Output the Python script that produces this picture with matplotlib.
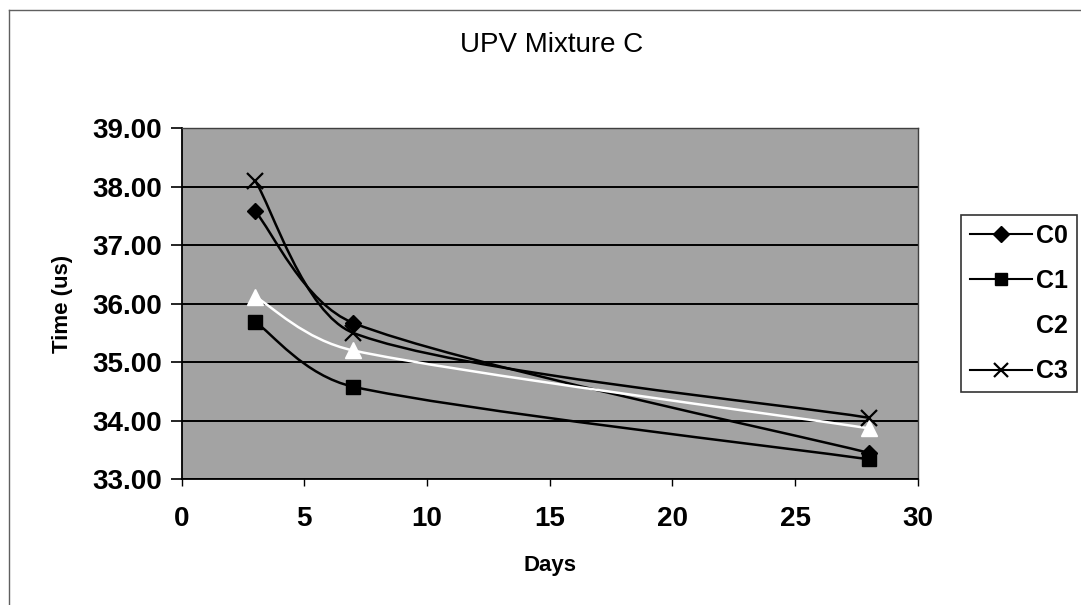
import matplotlib
matplotlib.use("Agg")
import matplotlib.pyplot as plt
from matplotlib.path import Path
from matplotlib.patches import PathPatch
from matplotlib.lines import Line2D
from matplotlib.ticker import FormatStrFormatter
import numpy as np

plt.rcParams['font.family'] = ['Liberation Sans', 'DejaVu Sans']

days = [3, 7, 28]
c0 = [37.58, 35.67, 33.45]
c1 = [35.69, 34.58, 33.34]
c2 = [36.12, 35.20, 33.87]
c3 = [38.10, 35.50, 34.05]
series_names = ["C0", "C1", "C2", "C3"]
title = "UPV Mixture C"

fig = plt.figure(figsize=(10.81, 6.05), dpi=100)
ax = fig.add_axes([0.168, 0.208, 0.681, 0.580])
ax.set_facecolor('#a3a3a3')

def smooth_path(xs, ys):
    pts = np.column_stack([xs, ys]).astype(float)
    n = len(pts)
    verts = [pts[0]]
    codes = [Path.MOVETO]
    for i in range(n - 1):
        p0 = pts[i - 1] if i > 0 else pts[i]
        p1 = pts[i]
        p2 = pts[i + 1]
        p3 = pts[i + 2] if i + 2 < n else pts[i + 1]
        d1 = (p2 - p0) / 6.0
        d2 = (p3 - p1) / 6.0
        seg = p2[0] - p1[0]
        if abs(d1[0]) > seg / 2:
            d1 = d1 * (seg / 2) / abs(d1[0])
        if abs(d2[0]) > seg / 2:
            d2 = d2 * (seg / 2) / abs(d2[0])
        verts += [p1 + d1, p2 - d2, p2]
        codes += [Path.CURVE4] * 3
    return Path(verts, codes)

styles = [
    dict(color='black', marker='D', ms=8.5, mfc='black', mec='black'),
    dict(color='black', marker='s', ms=9.5, mfc='black', mec='black'),
    dict(color='white', marker='^', ms=11, mfc='white', mec='white'),
    dict(color='black', marker='x', ms=11, mfc='black', mec='black', mew=1.6),
]
all_series = [c0, c1, c2, c3]
handles = []
for vals, st, name in zip(all_series, styles, series_names):
    path = smooth_path(days, vals)
    ax.add_patch(PathPatch(path, fill=False, edgecolor=st['color'], lw=1.8, zorder=3))
    ax.plot(days, vals, linestyle='none', marker=st['marker'], ms=st['ms'],
            mfc=st['mfc'], mec=st['mec'], mew=st.get('mew', 1), zorder=4)
    handles.append(Line2D([], [], color=st['color'], lw=1.5, marker=st['marker'],
                          ms=st['ms'] * 0.9, mfc=st['mfc'], mec=st['mec'],
                          mew=st.get('mew', 1), label=name))

ax.set_xlim(0, 30)
ax.set_ylim(33, 39)
ax.set_xticks(range(0, 31, 5))
ax.set_yticks(range(33, 40))
ax.yaxis.set_major_formatter(FormatStrFormatter('%.2f'))
ax.grid(axis='y', color='black', lw=1.4)
ax.set_axisbelow(True)
for s in ['top', 'right']:
    ax.spines[s].set_color('#404040')
    ax.spines[s].set_linewidth(1.0)
ax.spines['left'].set_linewidth(1.3)
ax.spines['bottom'].set_linewidth(1.3)
ax.tick_params(axis='y', direction='out', length=8, width=1.2, labelsize=20, pad=6)
ax.tick_params(axis='x', direction='out', length=5, width=1.0, labelsize=20, pad=14)
for lbl in ax.get_xticklabels() + ax.get_yticklabels():
    lbl.set_fontweight('bold')
ax.set_xlabel('Days', fontsize=16, fontweight='bold', labelpad=17)
ax.set_ylabel('Time (us)', fontsize=16, fontweight='bold', labelpad=14)
fig.text(0.51, 1 - 45 / 605, title, ha='center', va='center', fontsize=20)

leg = fig.legend(handles=handles, loc='upper left',
                 bbox_to_anchor=(961 / 1081, 1 - 215 / 605),
                 frameon=True, fancybox=False, edgecolor='black', fontsize=18,
                 handlelength=2.5, borderpad=0.35, labelspacing=0.85, handletextpad=0.15,
                 borderaxespad=0)
leg.get_frame().set_linewidth(1.2)
for t in leg.get_texts():
    t.set_fontweight('bold')

fig.add_artist(Line2D([9 / 1081, 9 / 1081], [0.0, 1 - 10 / 605],
                      transform=fig.transFigure, color='#606060', lw=1.0))
fig.add_artist(Line2D([9 / 1081, 1.0], [1 - 10 / 605, 1 - 10 / 605],
                      transform=fig.transFigure, color='#606060', lw=1.0))

fig.savefig('out.png', dpi=100)
